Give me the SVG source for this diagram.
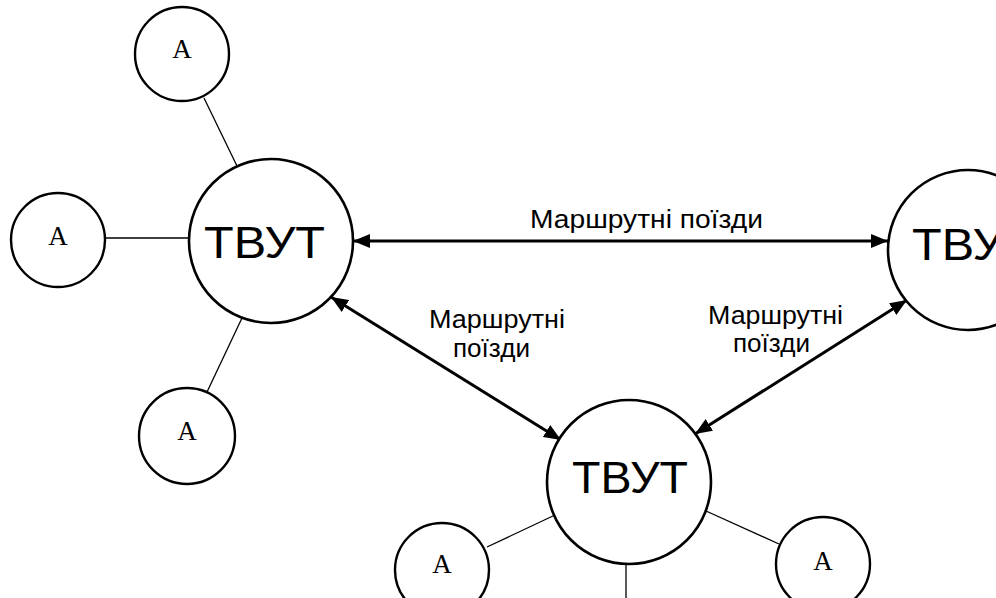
<svg xmlns="http://www.w3.org/2000/svg" width="996" height="598" viewBox="0 0 996 598">
<defs>
<style>
.big{fill:#fff;stroke:#000;stroke-width:2.6}
.small{fill:#fff;stroke:#000;stroke-width:2.4}
.link{stroke:#000;stroke-width:1.3;fill:none}
.arrow{stroke:#000;stroke-width:3;fill:none;marker-start:url(#ah);marker-end:url(#ah)}
.tb{font-family:"Liberation Sans",Arial,sans-serif;font-size:44px;fill:#000}
.ta{font-family:"Liberation Serif","Times New Roman",serif;font-size:27px;fill:#000;text-anchor:middle}
.lbl{font-family:"Liberation Sans",Arial,sans-serif;font-size:25px;fill:#000}
</style>
<marker id="ah" markerUnits="userSpaceOnUse" markerWidth="18" markerHeight="15" refX="17" refY="7" orient="auto-start-reverse" viewBox="0 0 18 15">
<path d="M0,0 L17,7 L0,14 Z" fill="#000"/>
</marker>
</defs>
<rect width="996" height="598" fill="#fff"/>
<g id="connectors">
<line class="link" x1="204" y1="98" x2="237" y2="166"/>
<line class="link" x1="106" y1="238" x2="189" y2="238"/>
<line class="link" x1="242" y1="318" x2="207" y2="392"/>
<line class="link" x1="487" y1="547" x2="555" y2="515"/>
<line class="link" x1="706" y1="511" x2="779" y2="544"/>
<line class="link" x1="626" y1="563" x2="626" y2="598"/>
<line class="arrow" x1="353" y1="241" x2="888" y2="241"/>
<line class="arrow" x1="331" y1="297" x2="561" y2="440"/>
<line class="arrow" x1="907" y1="300" x2="695" y2="434"/>
<text class="lbl" x="530" y="228" textLength="233" lengthAdjust="spacingAndGlyphs">Маршрутні поїзди</text>
<text class="lbl" x="429" y="328" textLength="136" lengthAdjust="spacingAndGlyphs">Маршрутні</text>
<text class="lbl" x="453" y="357" textLength="77" lengthAdjust="spacingAndGlyphs">поїзди</text>
<text class="lbl" x="708" y="324" textLength="135" lengthAdjust="spacingAndGlyphs">Маршрутні</text>
<text class="lbl" x="733" y="352" textLength="77" lengthAdjust="spacingAndGlyphs">поїзди</text>
</g>
<g id="tvut-left"><circle class="big" cx="271" cy="241" r="82"/><text class="tb" x="204" y="258" textLength="121" lengthAdjust="spacingAndGlyphs">ТВУТ</text></g>
<g id="tvut-right"><circle class="big" cx="968" cy="250" r="80"/><text class="tb" x="912" y="260" textLength="121" lengthAdjust="spacingAndGlyphs">ТВУТ</text></g>
<g id="tvut-bottom"><circle class="big" cx="629" cy="482" r="82"/><text class="tb" x="572" y="493" textLength="116" lengthAdjust="spacingAndGlyphs">ТВУТ</text></g>
<g id="a-top"><circle class="small" cx="182" cy="54" r="47"/><text class="ta" x="182" y="58">A</text></g>
<g id="a-left"><circle class="small" cx="58" cy="240" r="47"/><text class="ta" x="58" y="245">A</text></g>
<g id="a-bottomleft"><circle class="small" cx="187" cy="436" r="48"/><text class="ta" x="187" y="440">A</text></g>
<g id="a-bottom"><circle class="small" cx="442" cy="570" r="47"/><text class="ta" x="442" y="573">A</text></g>
<g id="a-bottomright"><circle class="small" cx="823" cy="564" r="47"/><text class="ta" x="823" y="570">A</text></g>
</svg>
